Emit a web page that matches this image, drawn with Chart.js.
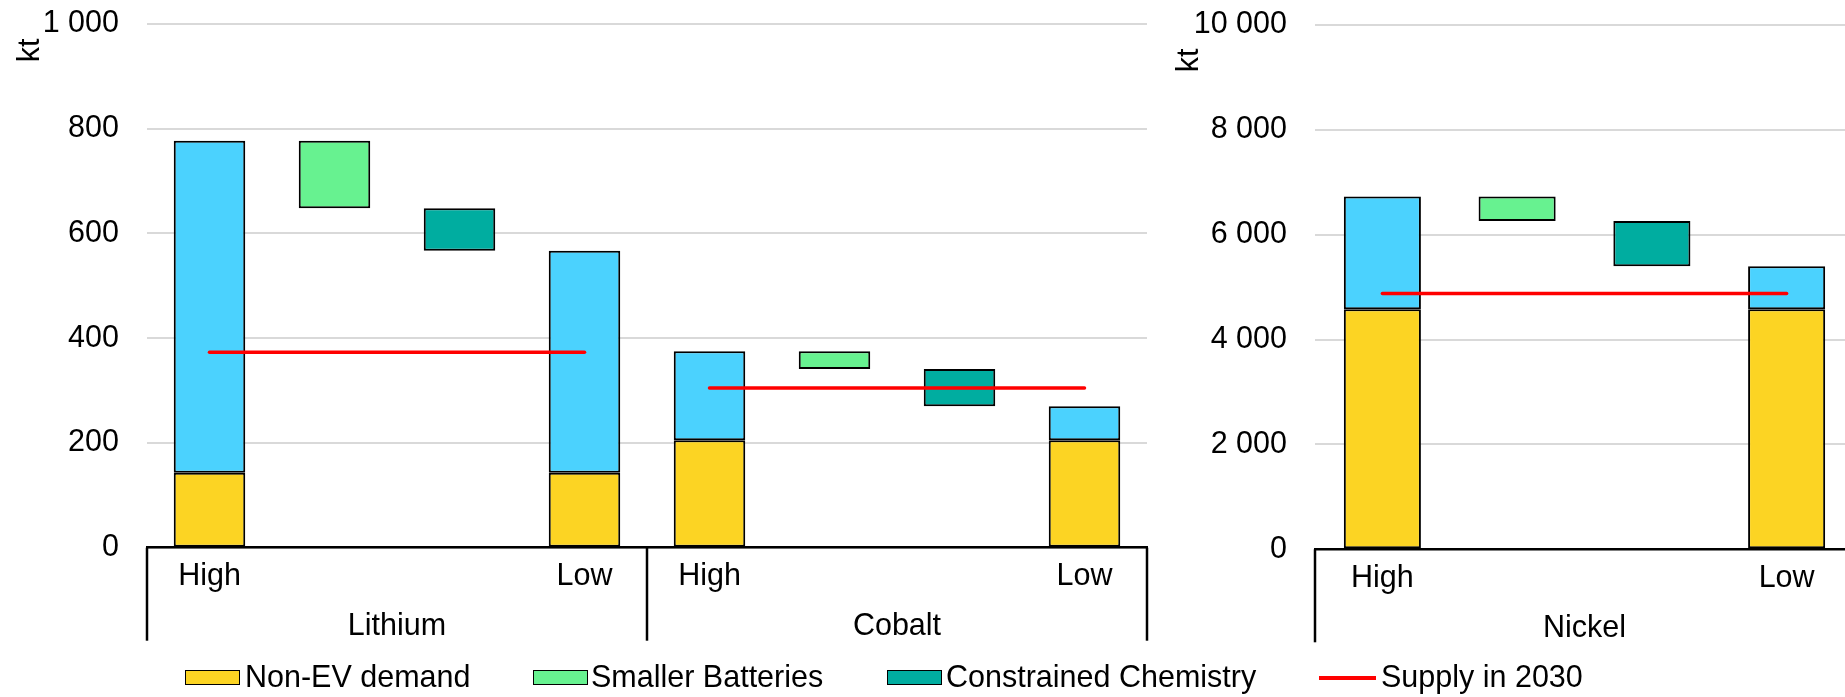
<!DOCTYPE html>
<html lang="en">
<head>
    <meta charset="UTF-8">
    <title>Battery metals demand 2030</title>
    <script src="https://cdn.jsdelivr.net/npm/chart.js"></script>
    <style>
        body { margin: 0; background: #fff; }
        #page { position: relative; width: 1845px; height: 697px; overflow: hidden; font-family: "Liberation Sans", Arial, sans-serif; }
        canvas { position: absolute; top: 0; }
        .box { position: absolute; top: 670px; width: 55px; height: 15px; box-sizing: border-box; border: 1.5px solid #000; }
        .txt { position: absolute; top: 660.7px; font-size: 30.5px; line-height: 30.5px; color: #000; white-space: nowrap; }
        .ln { position: absolute; top: 676px; left: 1319px; width: 57px; height: 3.5px; background: #ff0000; }
    </style>
</head>
<body>
<div id="page">
    <canvas id="leftChart" width="1150" height="697" style="left:0"></canvas>
    <canvas id="rightChart" width="704" height="697" style="left:1150px"></canvas>

    <div class="box" style="left:185px; background:#FCD423"></div>
    <div class="txt" style="left:245px">Non-EV demand</div>
    <div class="box" style="left:533px; background:#67F290"></div>
    <div class="txt" style="left:591px">Smaller Batteries</div>
    <div class="box" style="left:887px; background:#00ADA0"></div>
    <div class="txt" style="left:946px">Constrained Chemistry</div>
    <div class="ln"></div>
    <div class="txt" style="left:1381px">Supply in 2030</div>
</div>

<script>
    // Lithium + Cobalt (kt)
    const leftTicks = ['High', '', '', 'Low', 'High', '', '', 'Low'];
    const leftGroups = ['Lithium', 'Cobalt'];
    const nonEvLeft = [143, null, null, 143, 205, null, null, 205];
    const totalLeft = [777, null, null, 567, 375, null, null, 270];
    const smallerLeft = [null, [648, 777], null, null, null, [341, 375], null, null];
    const constrainedLeft = [null, null, [567, 648], null, null, null, [270, 341], null];
    const supplyLeft = [373, 373, 373, 373, 305, 305, 305, 305];

    // Nickel (kt)
    const rightTicks = ['High', '', '', 'Low'];
    const rightGroups = ['Nickel'];
    const nonEvRight = [4580, null, null, 4580];
    const totalRight = [6730, null, null, 5400];
    const smallerRight = [null, [6260, 6730], null, null];
    const constrainedRight = [null, null, [5400, 6260], null];
    const supplyRight = [4880, 4880, 4880, 4880];

    const FONT = '"Liberation Sans", Arial, sans-serif';
    const SIZE = 30.5;
    const colors = { nonEv: '#FCD423', ev: '#4BD2FE', smaller: '#67F290', constrained: '#00ADA0', supply: '#FF0000' };

    // category labels, group separators and the "kt" title
    const groupAxis = {
        id: 'groupAxis',
        afterDraw(chart, args, opts) {
            const { ctx, chartArea } = chart;
            const x = chart.scales.x;
            const ticks = x.getLabels();
            const per = ticks.length / opts.groups.length;
            const bottom = chartArea.bottom;

            ctx.save();
            ctx.fillStyle = '#000';
            ctx.font = SIZE + 'px ' + FONT;
            ctx.textAlign = 'center';
            ctx.textBaseline = 'alphabetic';
            ticks.forEach((t, i) => {
                if (t) ctx.fillText(t, x.getPixelForValue(i), bottom + 37.5);
            });

            const edges = [];
            for (let g = 0; g <= opts.groups.length; g++) {
                if (g === 0) edges.push(chartArea.left);
                else if (g === opts.groups.length) edges.push(chartArea.right);
                else edges.push((x.getPixelForValue(g * per - 1) + x.getPixelForValue(g * per)) / 2);
            }
            ctx.strokeStyle = '#000';
            ctx.lineWidth = 2.5;
            edges.forEach(px => {
                ctx.beginPath();
                ctx.moveTo(px, bottom);
                ctx.lineTo(px, bottom + 93);
                ctx.stroke();
            });
            opts.groups.forEach((g, i) => ctx.fillText(g, (edges[i] + edges[i + 1]) / 2, bottom + 87.5));

            // y axis unit
            ctx.translate(opts.titleX, opts.titleY);
            ctx.rotate(-Math.PI / 2);
            ctx.fillText('kt', 0, 0);
            ctx.restore();
        }
    };

    const spaced = v => v.toString().replace(/\B(?=(\d{3})+(?!\d))/g, ' ');

    function makeChart(id, ticks, groups, nonEv, total, smaller, constrained, supply, yMax, yStep, axisWidth, pad, title) {
        const bar = { type: 'bar', grouped: false, categoryPercentage: 1, barPercentage: 0.572,
                      borderColor: '#000', borderWidth: 2, borderSkipped: false, order: 1 };
        const per = ticks.length / groups.length;
        return new Chart(document.getElementById(id), {
            data: {
                labels: ticks,
                datasets: [
                    Object.assign({}, bar, { label: 'Non-EV demand', data: nonEv, backgroundColor: colors.nonEv }),
                    Object.assign({}, bar, { label: 'EV demand', data: total.map((t, i) => t == null ? null : [nonEv[i], t]), backgroundColor: colors.ev }),
                    Object.assign({}, bar, { label: 'Smaller Batteries', data: smaller, backgroundColor: colors.smaller }),
                    Object.assign({}, bar, { label: 'Constrained Chemistry', data: constrained, backgroundColor: colors.constrained }),
                    {
                        type: 'line', label: 'Supply in 2030', data: supply, order: 0,
                        borderColor: colors.supply, borderWidth: 3.5, borderCapStyle: 'round',
                        pointRadius: 0, tension: 0,
                        segment: { borderColor: c => (c.p0DataIndex % per === per - 1) ? 'rgba(0,0,0,0)' : colors.supply }
                    }
                ]
            },
            options: {
                responsive: false,
                animation: false,
                layout: { padding: pad },
                plugins: {
                    legend: { display: false },
                    tooltip: { enabled: false },
                    groupAxis: { groups: groups, titleX: title[0], titleY: title[1] }
                },
                scales: {
                    x: {
                        offset: true,
                        grid: { display: false, drawTicks: false },
                        border: { display: true, color: '#000', width: 2.5 },
                        ticks: { display: false },
                        afterFit: s => { s.height = 0; }
                    },
                    y: {
                        min: 0, max: yMax,
                        grid: { color: '#d9d9d9', lineWidth: 2, drawTicks: false },
                        border: { display: false },
                        ticks: { stepSize: yStep, padding: 28, color: '#000', font: { family: FONT, size: SIZE }, callback: v => spaced(v) },
                        afterFit: s => { s.width = axisWidth; s.paddingTop = 0; s.paddingBottom = 0; }
                    }
                }
            },
            plugins: [groupAxis]
        });
    }

    makeChart('leftChart', leftTicks, leftGroups, nonEvLeft, totalLeft, smallerLeft, constrainedLeft, supplyLeft,
              1000, 200, 147, { top: 24, bottom: 149.3, left: 0, right: 3 }, [39, 50.5]);
    makeChart('rightChart', rightTicks, rightGroups, nonEvRight, totalRight, smallerRight, constrainedRight, supplyRight,
              10000, 2000, 165, { top: 25, bottom: 147.7, left: 0, right: 0 }, [48, 60.5]);
</script>
</body>
</html>
